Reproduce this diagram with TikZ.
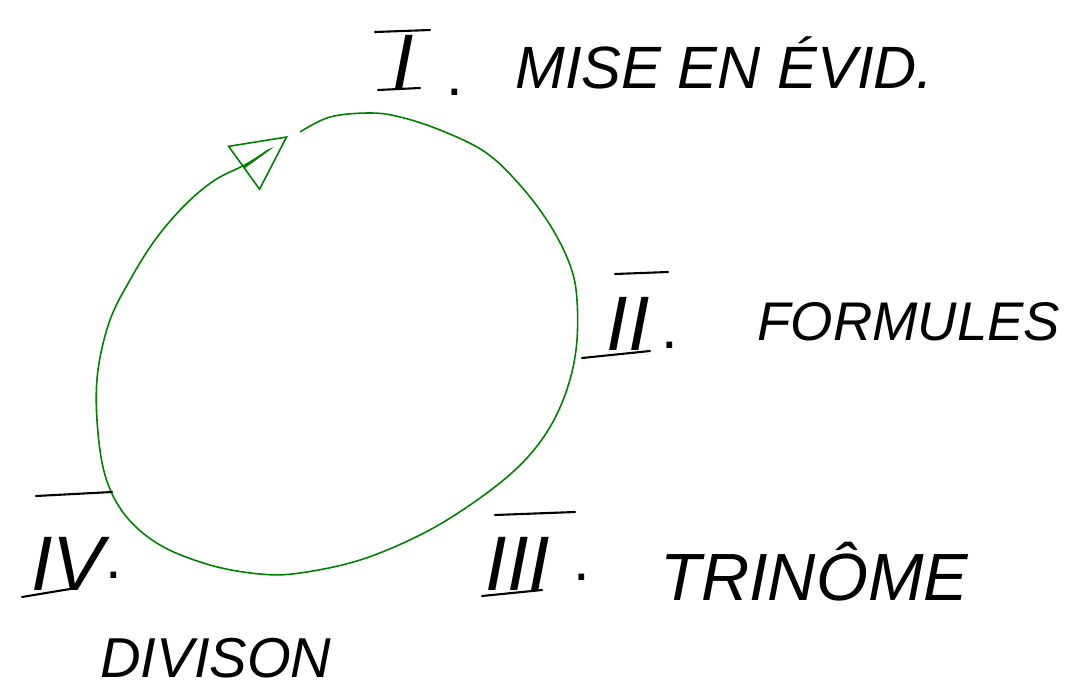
\documentclass[tikz,border=0pt]{standalone}
\usepackage{fontspec}
\setmainfont{Liberation Sans}
\usepackage{tikz}
\usetikzlibrary{arrows.meta}

\begin{document}
\begin{tikzpicture}[
  x=0.02cm, y=-0.02cm,
  every node/.style={inner sep=0pt},
  numeral/.style={font=\fontsize{44}{46}\selectfont\itshape, anchor=base},
  label/.style  ={font=\fontsize{#1}{#1}\selectfont\itshape, anchor=base west},
  label/.default=34,
  dot/.style    ={font=\fontsize{34}{36}\selectfont, anchor=base},
  bar/.style    ={draw=black, line width=1.2pt, line cap=round},
  cycle/.style  ={draw=green!50!black, line width=0.9pt},
]
\useasboundingbox (0,0) rectangle (1072,690);

% --- cycle ---
\draw[cycle, -{Triangle[open, length=1.1cm, width=1.1cm]}]
  plot[smooth, tension=0.6] coordinates {
    (300,132) (330,117) (370,113) (400,117) (440,130) (485,152) (520,185)
    (550,225) (570,265) (577,300) (576,350) (565,395) (545,435) (515,470)
    (470,505) (420,535) (360,560) (300,573) (260,574) (210,565) (160,545)
    (125,515) (105,475) (97,420) (98,370) (110,320) (130,280) (155,240)
    (185,205) (215,180) (250,162) (288,136)};

% --- I ---
\node[numeral] (n1) at (403,88) {I};
\draw[bar] (375,32) -- (430,30);
\draw[bar] (378,90) -- (420,88);
\node[dot] (d1) at (455,95) {.};
\node[label] (t1) at (515,88) {MISE EN ÉVID.};

% --- II ---
\node[numeral] (n2) at (628,350) {II};
\draw[bar] (615,274) -- (668,272);
\draw[bar] (582,358) -- (650,351);
\node[dot] (d2) at (670,348) {.};
\node[label=31] (t2) at (757,340) {FORMULES};

% --- III ---
\node[numeral] (n3) at (518,590) {III};
\draw[bar] (495,515) -- (575,512);
\draw[bar] (482,596) -- (542,590);
\node[dot] (d3) at (582,580) {.};
\node[label=38] (t3) at (660,600) {TRINÔME};

% --- IV ---
\node[numeral] (n4) at (68,590) {IV};
\draw[bar] (36,496) -- (112,492);
\draw[bar] (22,597) -- (76,588);
\node[dot] (d4) at (114,578) {.};
\node[label=32] (t4) at (100,677) {DIVISON};
\end{tikzpicture}
\end{document}
